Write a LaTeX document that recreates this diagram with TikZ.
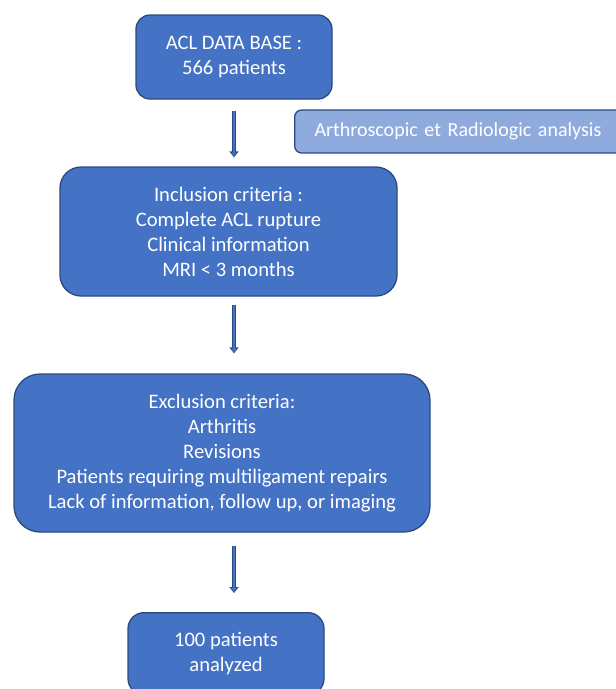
\documentclass[tikz,border=0pt]{standalone}
\usepackage{fontspec}
\setmainfont{Carlito}
\usetikzlibrary{arrows.meta}
\definecolor{boxblue}{HTML}{4472C4}
\definecolor{boxedge}{HTML}{2B4A80}
\definecolor{lightblue}{HTML}{8FAADC}
\begin{document}
\begin{tikzpicture}[x=1pt,y=-1pt,
  flowbox/.style={draw=boxedge, fill=boxblue, line width=1.3pt, text=white, align=center,
    font=\fontsize{20.6}{25}\selectfont, inner sep=0pt},
  sidebox/.style={draw=boxedge, fill=lightblue, line width=1.3pt, text=white,
    font=\fontsize{20}{25}\selectfont, inner sep=0pt, anchor=west},
  arrowout/.style={draw=boxedge, line width=4.6pt, -{Triangle[width=9pt,length=6pt]}},
  arrowin/.style={draw=boxblue, line width=1.8pt, -{Triangle[width=5pt,length=3.6pt]}}
]
\useasboundingbox (0,0) rectangle (616,689);
\fill[white] (0,0) rectangle (616,689);

\node[flowbox, minimum width=196pt, minimum height=84pt, rounded corners=14pt] (b1) at (234,57)
  {ACL DATA BASE :\\566 patients};
\node[sidebox, minimum width=332pt, minimum height=43pt, rounded corners=7pt, text width=320pt, align=left] (side) at (294,131.5)
  {\hspace*{14pt}Arthroscopic et Radiologic analysis};
\node[flowbox, minimum width=337pt, minimum height=129pt, rounded corners=21pt] (b2) at (228.5,231.5)
  {Inclusion criteria :\\Complete ACL rupture\\Clinical information\\MRI {<} 3 months};
\node[flowbox, minimum width=416pt, minimum height=158pt, rounded corners=26pt] (b3) at (222,453)
  {Exclusion criteria:\\Arthritis\\Revisions\\Patients requiring multiligament repairs\\Lack of information, follow up, or imaging};
\node[flowbox, minimum width=196pt, minimum height=82pt, rounded corners=16pt, anchor=north] (b4) at (226,612)
  {100 patients\\analyzed};

\draw[arrowout, shorten <=11pt, shorten >=9pt] (b1.south) -- (b1.south |- b2.north);
\draw[arrowin, shorten <=11.8pt, shorten >=10.2pt] (b1.south) -- (b1.south |- b2.north);
\draw[arrowout, shorten <=8pt, shorten >=20pt] (b2.south -| b1) -- (b3.north -| b1);
\draw[arrowin, shorten <=8.8pt, shorten >=21.2pt] (b2.south -| b1) -- (b3.north -| b1);
\draw[arrowout, shorten <=13pt, shorten >=19pt] (b3.south -| b1) -- (b4.north -| b1);
\draw[arrowin, shorten <=13.8pt, shorten >=20.2pt] (b3.south -| b1) -- (b4.north -| b1);
\end{tikzpicture}
\end{document}
